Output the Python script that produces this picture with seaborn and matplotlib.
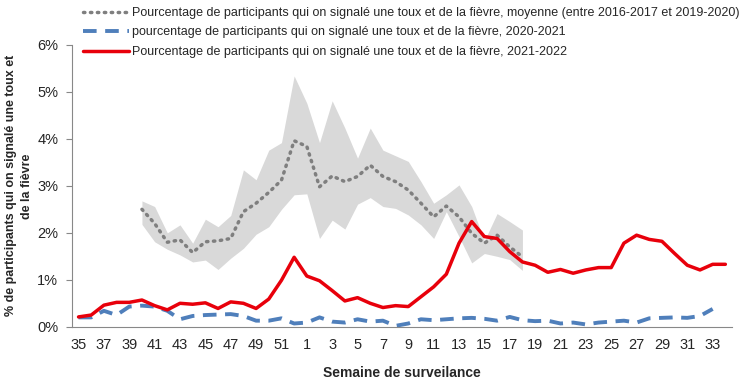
import numpy as np
import pandas as pd
import matplotlib
matplotlib.use("Agg")
import matplotlib.pyplot as plt
import seaborn as sns

# semaines de surveillance (35 -> 52, puis 1 -> 34)
weeks = list(range(35, 53)) + list(range(1, 35))

nan = np.nan
# 2021-2022
red_vals = [0.21, 0.25, 0.46, 0.52, 0.52, 0.57, 0.45, 0.36, 0.50, 0.48,
            0.51, 0.39, 0.53, 0.50, 0.39, 0.59, 0.99, 1.48, 1.08, 0.98,
            0.77, 0.55, 0.62, 0.50, 0.41, 0.45, 0.43, 0.64, 0.85, 1.12,
            1.78, 2.24, 1.92, 1.88, 1.60, 1.38, 1.31, 1.16, 1.22, 1.14,
            1.21, 1.26, 1.26, 1.78, 1.95, 1.86, 1.82, 1.56, 1.31, 1.21,
            1.33, 1.33]
# 2020-2021
blue_vals = [0.20, 0.20, 0.34, 0.25, 0.43, 0.45, 0.43, 0.34, 0.16, 0.23,
             0.25, 0.26, 0.27, 0.23, 0.13, 0.13, 0.18, 0.07, 0.09, 0.20,
             0.11, 0.09, 0.16, 0.11, 0.13, 0.02, 0.07, 0.16, 0.14, 0.16,
             0.18, 0.19, 0.17, 0.13, 0.21, 0.14, 0.12, 0.13, 0.07, 0.09,
             0.05, 0.09, 0.11, 0.13, 0.09, 0.18, 0.19, 0.20, 0.19, 0.23,
             0.38, nan]
# moyenne 2016-2017 a 2019-2020
mean_vals = [nan] * 5 + [2.50, 2.20, 1.80, 1.85, 1.58, 1.81, 1.83, 1.88, 2.45,
             2.63, 2.86, 3.12, 3.96, 3.84, 2.98, 3.21, 3.09, 3.20, 3.44,
             3.20, 3.09, 2.91, 2.63, 2.34, 2.57, 2.34, 1.99, 1.78, 1.95,
             1.70, 1.49] + [nan] * 16
upper_vals = [nan] * 5 + [2.68, 2.56, 2.00, 2.17, 1.78, 2.29, 2.13, 2.37, 3.34,
              3.13, 3.76, 3.92, 5.34, 4.76, 3.92, 4.81, 4.23, 3.59, 4.23,
              3.76, 3.64, 3.52, 3.09, 2.63, 2.81, 3.02, 2.56, 1.83, 2.41,
              2.24, 2.06] + [nan] * 16
lower_vals = [nan] * 5 + [2.18, 1.81, 1.65, 1.53, 1.38, 1.42, 1.22, 1.46, 1.67,
              1.97, 2.13, 2.50, 2.81, 2.83, 1.88, 2.27, 2.08, 2.61, 2.75,
              2.56, 2.52, 2.38, 2.17, 1.88, 2.45, 1.92, 1.36, 1.56, 1.50,
              1.43, 1.20] + [nan] * 16

lab_mean = "Pourcentage de participants qui on signalé une toux et de la fièvre, moyenne (entre 2016-2017 et 2019-2020)"
lab_blue = "pourcentage de participants qui on signalé une toux et de la fièvre, 2020-2021"
lab_red = "Pourcentage de participants qui on signalé une toux et de la fièvre, 2021-2022"

df = pd.DataFrame({"x": np.arange(len(weeks)), "week": weeks,
                   "red": red_vals, "blue": blue_vals, "mean": mean_vals,
                   "upper": upper_vals, "lower": lower_vals})

sns.set_style("white")
plt.rcParams["font.family"] = ["Liberation Sans", "DejaVu Sans"]

fig = plt.figure(figsize=(7.52, 3.84), dpi=100)
ax = fig.add_axes([0.096, 0.149, 0.877, 0.734])

band = df.dropna(subset=["upper"])
ax.fill_between(band["x"], band["lower"], band["upper"], color="#d9d9d9", lw=0, zorder=1)

sns.lineplot(data=df, x="x", y="mean", ax=ax, color="#7f7f7f", lw=2.5,
             label=lab_mean, zorder=3)
ax.lines[-1].set_linestyle((0, (0.4, 1.6)))
ax.lines[-1].set_dash_capstyle("round")
sns.lineplot(data=df, x="x", y="blue", ax=ax, color="#4f7fbb", lw=2.8,
             label=lab_blue, zorder=2)
ax.lines[-1].set_linestyle((0, (3.5, 2.2)))
sns.lineplot(data=df, x="x", y="red", ax=ax, color="#e8000b", lw=2.5,
             label=lab_red, zorder=4)

ax.set_xlim(-0.5, len(weeks) - 0.5)
ax.set_ylim(0, 6)
ax.set_yticks(np.arange(0, 7))
ax.set_yticklabels([f"{v}%" for v in range(7)], fontsize=10.5)
ax.set_xticks(df["x"][::2])
ax.set_xticklabels(df["week"][::2], fontsize=10.5)
ax.set_xticks(np.arange(-0.5, len(weeks)), minor=True)
ax.tick_params(axis="x", which="major", length=0, pad=8)
ax.tick_params(axis="x", which="minor", length=4, color="#888888", width=0.8)
ax.tick_params(axis="y", length=4, color="#888888", width=0.8, left=True, pad=6)

for s in ["top", "right"]:
    ax.spines[s].set_visible(False)
for s in ["left", "bottom"]:
    ax.spines[s].set_color("#888888")
    ax.spines[s].set_linewidth(0.8)

ax.set_xlabel("Semaine de surveilance", fontsize=10, fontweight="bold", labelpad=10)
ax.set_ylabel("% de participants qui on signalé une toux et\nde la fièvre",
              fontsize=9, fontweight="bold", labelpad=3, linespacing=1.45)

handles, labels = ax.get_legend_handles_labels()
ax.get_legend().remove()
fig.legend(handles, labels, loc="upper left", bbox_to_anchor=(0.104, 0.995),
           frameon=False, fontsize=9.0, handlelength=3.7, labelspacing=0.6,
           handletextpad=0.2, borderaxespad=0)

fig.savefig("out.png", dpi=100)
